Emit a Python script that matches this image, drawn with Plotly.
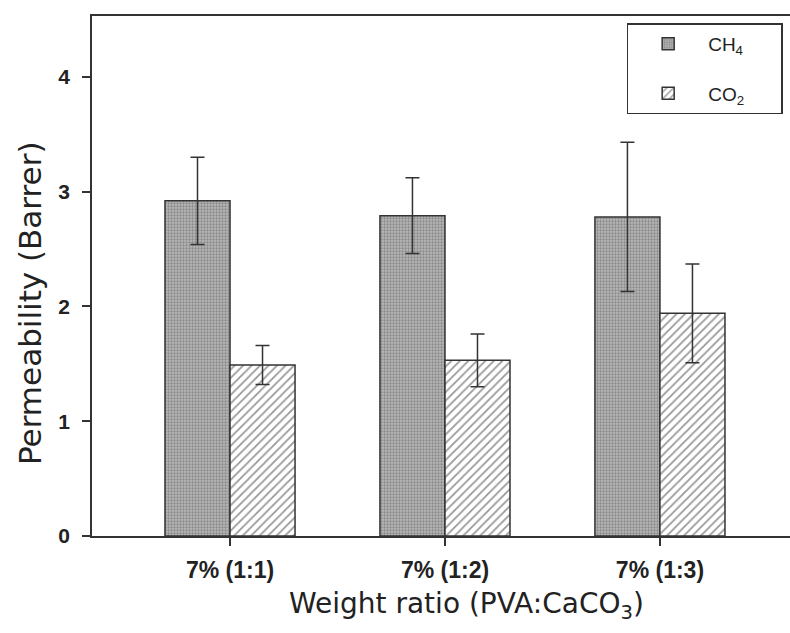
import plotly.graph_objects as go

categories = ["7% (1:1)", "7% (1:2)", "7% (1:3)"]
ch4_values = [2.92, 2.79, 2.78]
ch4_errors = [0.38, 0.33, 0.65]
co2_values = [1.49, 1.53, 1.94]
co2_errors = [0.17, 0.23, 0.43]
y_ticks = [0, 1, 2, 3, 4]
x_title = "Weight ratio (PVA:CaCO<sub>3</sub>)"
y_title = "Permeability (Barrer)"

x_idx = list(range(len(categories)))
FF = "DejaVu Sans"
PAD = "&nbsp;" * 6
INK = "#222222"

# plot area in page pixels
L, R, T, B = 92, 790, 16, 536


def px_to_paper(px, py):
    return (px - L) / (R - L), (B - py) / (B - T)


fig = go.Figure()
fig.add_trace(go.Bar(
    x=x_idx, y=ch4_values, name="CH<sub>4</sub>" + PAD, offsetgroup="a",
    legendgroup="a",
    marker=dict(color="#a8a8a8", line=dict(color="#333333", width=1.5),
                pattern=dict(shape=".", fgcolor="#5a5a5a", bgcolor="#b8b8b8", size=3, solidity=0.45)),
    error_y=dict(type="data", array=ch4_errors, visible=True, color="#333333", thickness=1.5, width=7),
))
fig.add_trace(go.Bar(
    x=x_idx, y=co2_values, name="CO<sub>2</sub>" + PAD, offsetgroup="b",
    legendgroup="b",
    marker=dict(color="white", line=dict(color="#333333", width=1.5),
                pattern=dict(shape="/", fgcolor="#333333", bgcolor="white", size=6, solidity=0.3)),
    error_y=dict(type="data", array=co2_errors, visible=True, color="#333333", thickness=1.5, width=7),
))

fig.update_layout(
    width=790, height=633,
    margin=dict(l=L, r=790 - R, t=T, b=633 - B),
    paper_bgcolor="white", plot_bgcolor="white",
    barmode="group", bargap=0.395, bargroupgap=0,
    font=dict(family="Arial", color=INK, size=16),
    legend=dict(x=0.766, y=0.986, xanchor="left", yanchor="top",
                bordercolor="#333333", borderwidth=1.5, bgcolor="white",
                font=dict(size=19, family="Arial", color=INK), tracegroupgap=22,
                traceorder="grouped", itemwidth=70),
)
fig.update_xaxes(
    tickmode="array", tickvals=x_idx, ticktext=categories,
    range=[-0.642, 2.605], showline=True, linecolor="#333333", linewidth=1.5,
    mirror=True, ticks="outside", ticklen=8, tickcolor="#333333", tickwidth=1.5,
    tickfont=dict(size=23, family="Arial", color=INK, weight="bold"), ticklabelstandoff=5,
    showgrid=False, zeroline=False,
)
fig.update_yaxes(
    range=[0, 4.53], tickmode="array", tickvals=y_ticks,
    showline=True, linecolor="#333333", linewidth=1.5,
    ticks="outside", ticklen=8, tickcolor="#333333", tickwidth=1.5,
    tickfont=dict(size=21, family="Arial", color=INK, weight="bold"), ticklabelstandoff=8,
    showgrid=False, zeroline=False,
)
ax, ay = px_to_paper(466, 605)
fig.add_annotation(text=x_title, xref="paper", yref="paper", x=ax, y=ay,
                   xanchor="center", yanchor="middle", showarrow=False,
                   font=dict(size=28, family=FF, color=INK))
bx, by = px_to_paper(30, 303)
fig.add_annotation(text=y_title, xref="paper", yref="paper", x=bx, y=by,
                   xanchor="center", yanchor="middle", showarrow=False, textangle=-90,
                   font=dict(size=31, family=FF, color=INK))

fig.write_html("out.html")
